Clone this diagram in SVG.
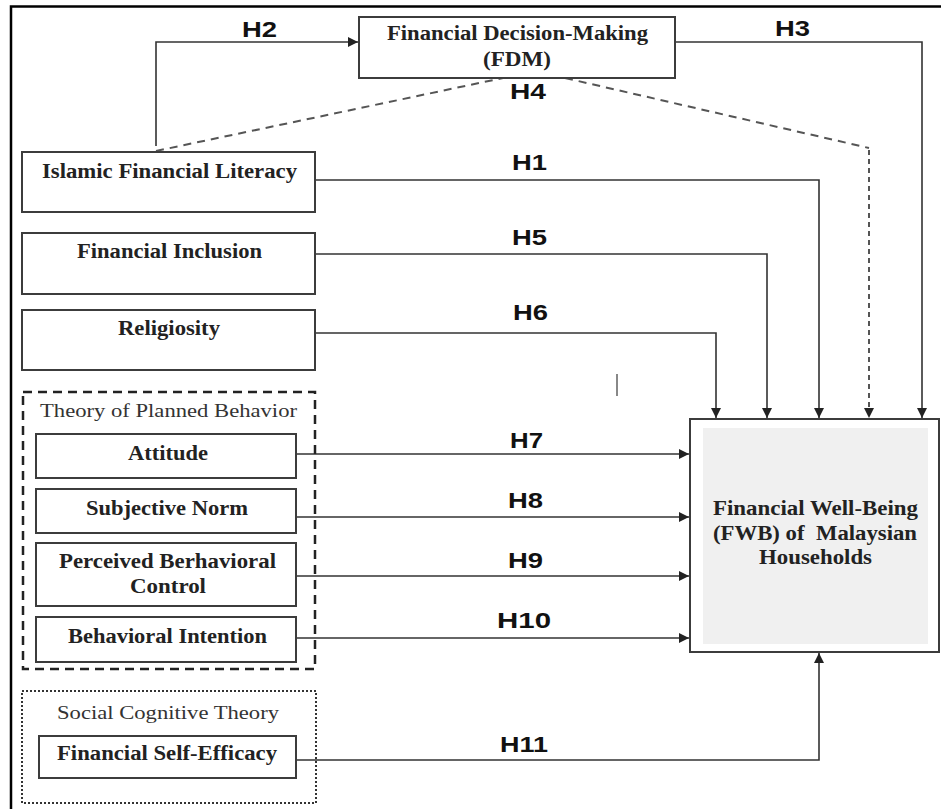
<svg xmlns="http://www.w3.org/2000/svg" width="941" height="809" viewBox="0 0 941 809">
  <style>
    .box { fill: #ffffff; stroke: #3c3c3c; stroke-width: 2; }
    .lbl { font-family: "Liberation Serif", "Times New Roman", serif; font-weight: bold; font-size: 20px; fill: #222; text-anchor: start; }
    .grp { font-family: "Liberation Serif", "Times New Roman", serif; font-size: 19px; fill: #333; }
    .hyp { font-family: "Liberation Sans", Arial, sans-serif; font-weight: bold; font-size: 22px; fill: #111; }
    .edge { fill: none; stroke: #333; stroke-width: 1.6; }
    .dash { fill: none; stroke: #555; stroke-width: 2; stroke-dasharray: 8 6; }
  </style>
  <defs>
    <marker id="arrow" viewBox="0 0 10 10" refX="10" refY="5" markerWidth="10" markerHeight="10" markerUnits="userSpaceOnUse" orient="auto">
      <path d="M0,0 L10,5 L0,10 z" fill="#222"/>
    </marker>
  </defs>

  <rect width="941" height="809" fill="#ffffff"/>
  <!-- outer frame -->
  <path d="M11,809 V6.5 H941" fill="none" stroke="#000" stroke-width="2.5"/>

  <!-- stray mark -->
  <line x1="617" y1="374" x2="617" y2="396" stroke="#888" stroke-width="2"/>

  <!-- connectors -->
  <g id="connectors">
    <path class="edge" d="M156,146 V42 H358" marker-end="url(#arrow)"/>
    <path class="edge" d="M675,42 H922 V418" marker-end="url(#arrow)"/>
    <path class="dash" d="M156,151 L503,78"/>
    <path class="dash" d="M565,78 L869,148"/>
    <path fill="none" stroke="#555" stroke-width="2" stroke-dasharray="5 4" d="M869,150 V418" marker-end="url(#arrow)"/>
    <path class="edge" d="M315,180 H819 V418" marker-end="url(#arrow)"/>
    <path class="edge" d="M315,254 H767 V418" marker-end="url(#arrow)"/>
    <path class="edge" d="M315,333 H716 V418" marker-end="url(#arrow)"/>
    <path class="edge" d="M296,454 H689" marker-end="url(#arrow)"/>
    <path class="edge" d="M296,517 H689" marker-end="url(#arrow)"/>
    <path class="edge" d="M296,576 H689" marker-end="url(#arrow)"/>
    <path class="edge" d="M296,638 H689" marker-end="url(#arrow)"/>
    <path class="edge" d="M296,760 H819 V653" marker-end="url(#arrow)"/>

    <text class="hyp" x="242" y="37" textLength="35" lengthAdjust="spacingAndGlyphs">H2</text>
    <text class="hyp" x="775" y="36" textLength="35" lengthAdjust="spacingAndGlyphs">H3</text>
    <text class="hyp" x="510" y="99" textLength="36" lengthAdjust="spacingAndGlyphs">H4</text>
    <text class="hyp" x="512" y="170" textLength="35" lengthAdjust="spacingAndGlyphs">H1</text>
    <text class="hyp" x="512" y="245" textLength="35" lengthAdjust="spacingAndGlyphs">H5</text>
    <text class="hyp" x="513" y="320" textLength="35" lengthAdjust="spacingAndGlyphs">H6</text>
    <text class="hyp" x="510" y="448" textLength="33" lengthAdjust="spacingAndGlyphs">H7</text>
    <text class="hyp" x="508" y="508" textLength="35" lengthAdjust="spacingAndGlyphs">H8</text>
    <text class="hyp" x="508" y="568" textLength="35" lengthAdjust="spacingAndGlyphs">H9</text>
    <text class="hyp" x="497" y="628" textLength="54" lengthAdjust="spacingAndGlyphs">H10</text>
    <text class="hyp" x="500" y="752" textLength="48" lengthAdjust="spacingAndGlyphs">H11</text>
  </g>

  <g id="fdm">
    <rect class="box" x="359" y="17" width="316" height="61"/>
    <text class="lbl" x="387" y="40" textLength="261" lengthAdjust="spacingAndGlyphs">Financial Decision-Making</text>
    <text class="lbl" x="483" y="66" textLength="68" lengthAdjust="spacingAndGlyphs">(FDM)</text>
  </g>

  <g id="ifl">
    <rect class="box" x="22" y="152" width="293" height="60"/>
    <text class="lbl" x="42" y="178" textLength="255" lengthAdjust="spacingAndGlyphs">Islamic Financial Literacy</text>
  </g>

  <g id="fi">
    <rect class="box" x="22" y="233" width="293" height="61"/>
    <text class="lbl" x="77" y="258" textLength="185" lengthAdjust="spacingAndGlyphs">Financial Inclusion</text>
  </g>

  <g id="religiosity">
    <rect class="box" x="22" y="310" width="293" height="60"/>
    <text class="lbl" x="118" y="335" textLength="102" lengthAdjust="spacingAndGlyphs">Religiosity</text>
  </g>

  <g id="tpb">
    <rect x="23" y="392" width="292" height="277" fill="none" stroke="#222" stroke-width="2.5" stroke-dasharray="9 6"/>
    <text class="grp" x="40" y="417" textLength="257" lengthAdjust="spacingAndGlyphs">Theory of Planned Behavior</text>
  </g>

  <g id="attitude">
    <rect class="box" x="36" y="434" width="260" height="44"/>
    <text class="lbl" x="128" y="460" textLength="80" lengthAdjust="spacingAndGlyphs">Attitude</text>
  </g>

  <g id="subjective-norm">
    <rect class="box" x="36" y="489" width="260" height="44"/>
    <text class="lbl" x="86" y="515" textLength="162" lengthAdjust="spacingAndGlyphs">Subjective Norm</text>
  </g>

  <g id="pbc">
    <rect class="box" x="36" y="543" width="260" height="63"/>
    <text class="lbl" x="59" y="568" textLength="217" lengthAdjust="spacingAndGlyphs">Perceived Berhavioral</text>
    <text class="lbl" x="130" y="593" textLength="76" lengthAdjust="spacingAndGlyphs">Control</text>
  </g>

  <g id="bi">
    <rect class="box" x="36" y="617" width="260" height="45"/>
    <text class="lbl" x="68" y="643" textLength="199" lengthAdjust="spacingAndGlyphs">Behavioral Intention</text>
  </g>

  <g id="sct">
    <rect x="22" y="691" width="294" height="112" fill="none" stroke="#333" stroke-width="2" stroke-dasharray="2 2"/>
    <text class="grp" x="57" y="719" textLength="222" lengthAdjust="spacingAndGlyphs">Social Cognitive Theory</text>
  </g>

  <g id="fse">
    <rect class="box" x="39" y="736" width="257" height="42"/>
    <text class="lbl" x="57" y="760" textLength="220" lengthAdjust="spacingAndGlyphs">Financial Self-Efficacy</text>
  </g>

  <g id="fwb">
    <rect class="box" x="690" y="419" width="249" height="233"/>
    <rect x="703" y="428" width="225" height="216" fill="#f0f0f0"/>
    <text class="lbl" x="713" y="515" textLength="205" lengthAdjust="spacingAndGlyphs">Financial Well-Being</text>
    <text class="lbl" x="713" y="540" textLength="204" lengthAdjust="spacingAndGlyphs" xml:space="preserve">(FWB) of  Malaysian</text>
    <text class="lbl" x="759" y="564" textLength="113" lengthAdjust="spacingAndGlyphs">Households</text>
  </g>
</svg>
